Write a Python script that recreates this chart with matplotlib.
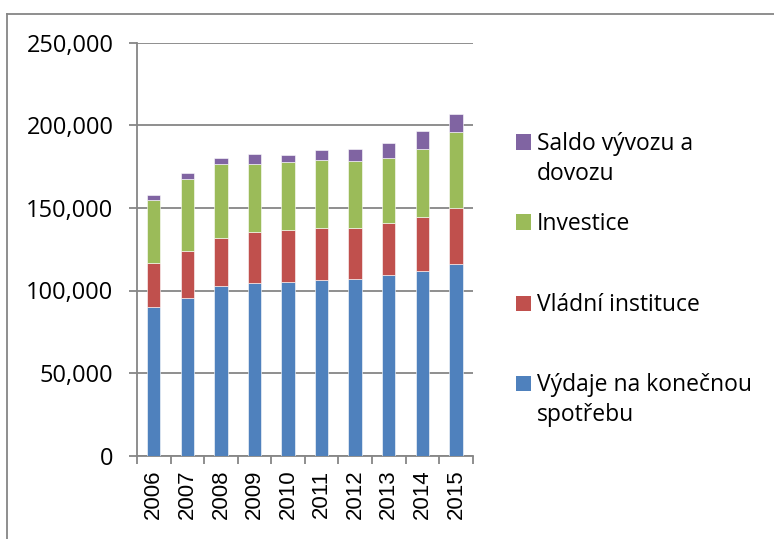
import matplotlib
matplotlib.use("Agg")
import matplotlib.pyplot as plt
import numpy as np
from matplotlib.patches import Rectangle
from matplotlib.lines import Line2D
from matplotlib.ticker import FuncFormatter

years = ["2006", "2007", "2008", "2009", "2010", "2011", "2012", "2013", "2014", "2015"]
spotreba = [89900, 95600, 102600, 104400, 105400, 106600, 107000, 109100, 111700, 116100]
vladni = [26600, 28100, 29200, 31000, 31000, 31400, 31000, 31600, 32600, 33800]
investice = [38200, 43700, 44900, 41000, 41100, 41100, 40500, 39600, 41600, 46100]
saldo = [3400, 3800, 3400, 6100, 4600, 5800, 7400, 8900, 10700, 10900]

series = [
    ("Výdaje na konečnou\nspotřebu", spotreba, "#4F81BD"),
    ("Vládní instituce", vladni, "#C0504D"),
    ("Investice", investice, "#9BBB59"),
    ("Saldo vývozu a\ndovozu", saldo, "#8064A2"),
]

W, H = 774, 539
fig = plt.figure(figsize=(W / 100, H / 100), dpi=100)

def fx(px):
    return px / W

def fy(py):
    return 1 - py / H

ax = fig.add_axes([fx(137), fy(455.7), fx(472.7) - fx(137), fy(42.7) - fy(455.7)])

grid_c = "#868686"
x = np.arange(len(years))
bottom = np.zeros(len(years))
for label, vals, col in series:
    ax.bar(x, vals, width=0.4, bottom=bottom, color=col, edgecolor="white",
           linewidth=0.4, zorder=3)
    bottom += np.array(vals)

ax.set_xlim(-0.5, len(years) - 0.5)
ax.set_ylim(0, 250000)
ax.set_yticks(np.arange(0, 250001, 50000))
ax.yaxis.set_major_formatter(FuncFormatter(lambda v, p: f"{int(v):,}"))
ax.yaxis.grid(True, color=grid_c, linewidth=1.3, zorder=0)
ax.set_axisbelow(True)

for s in ["top", "right"]:
    ax.spines[s].set_visible(False)
for s in ["left", "bottom"]:
    ax.spines[s].set_color(grid_c)
    ax.spines[s].set_linewidth(1.3)

ax.tick_params(axis="y", direction="out", length=6, width=1.3, color=grid_c,
               pad=11, labelsize=17, labelcolor="black")
for t in ax.get_yticklabels():
    t.set_fontfamily("Open Sans")

ax.set_xticks(x)
ax.set_xticklabels(years, rotation=90, fontsize=16, fontfamily="Liberation Sans")
ax.tick_params(axis="x", length=0, pad=10)
ax.set_xticks(np.arange(-0.5, len(years), 1.0), minor=True)
ax.tick_params(axis="x", which="minor", direction="out", length=6, width=1.3, color=grid_c)

# outer border (chart area)
fig.add_artist(Line2D([fx(7), 1.0], [fy(13.5), fy(13.5)], transform=fig.transFigure,
                      color=grid_c, linewidth=1.3))
fig.add_artist(Line2D([fx(7), fx(7)], [fy(13.5), 0.0], transform=fig.transFigure,
                      color=grid_c, linewidth=1.3))

# legend (manual positions, matching reference layout)
legend_items = [
    (series[3][0], series[3][2], 142),
    (series[2][0], series[2][2], 222),
    (series[1][0], series[1][2], 303),
    (series[0][0], series[0][2], 383),
]
for label, col, yc in legend_items:
    fig.add_artist(Rectangle((fx(516), fy(yc + 7.5)), fx(15), fy(yc - 7.5) - fy(yc + 7.5),
                             transform=fig.transFigure, facecolor=col, edgecolor="none"))
    fig.text(fx(537), fy(yc - 10), label, fontsize=16.5, fontfamily="Open Sans",
             va="top", ha="left", linespacing=1.35)

fig.savefig("out.png", dpi=100)
